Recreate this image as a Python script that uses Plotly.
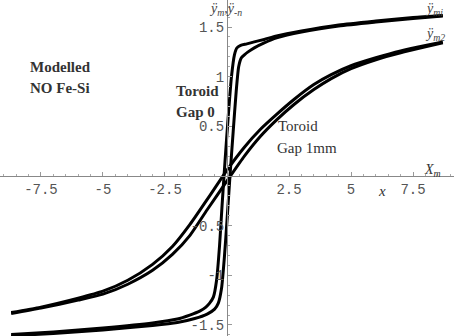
import plotly.graph_objects as go

# Gap 0 toroid loop (two branches)
gap0_asc_x = [-8.7, -7.0, -5.0, -3.0, -2.0, -1.3, -0.8, -0.5, -0.35, -0.22, -0.1, 0.0, 0.12, 0.25, 0.37, 0.47, 0.58, 0.7, 0.85, 1.1, 1.5, 2.0, 3.0, 4.5, 6.0, 7.5, 8.7]
gap0_asc_y = [-1.61, -1.585, -1.55, -1.505, -1.475, -1.435, -1.39, -1.34, -1.28, -1.13, -0.80, -0.45, 0.0, 0.45, 0.85, 1.10, 1.19, 1.22, 1.25, 1.29, 1.34, 1.39, 1.45, 1.51, 1.55, 1.585, 1.61]
gap0_desc_x = [8.7, 7.5, 6.0, 4.5, 3.0, 2.0, 1.5, 1.1, 0.8, 0.55, 0.4, 0.3, 0.18, 0.05, -0.08, -0.2, -0.3, -0.42, -0.55, -0.7, -0.85, -1.1, -1.5, -2.0, -3.0, -5.0, -7.0, -8.7]
gap0_desc_y = [1.615, 1.595, 1.56, 1.52, 1.46, 1.41, 1.375, 1.35, 1.33, 1.315, 1.29, 1.22, 1.0, 0.6, 0.15, -0.3, -0.7, -1.05, -1.22, -1.28, -1.32, -1.36, -1.40, -1.44, -1.48, -1.53, -1.57, -1.595]

# Gap 1mm toroid loop (two branches)
gap1_asc_x = [-8.7, -7.5, -6.0, -5.0, -4.0, -3.0, -2.2, -1.5, -0.8, 0.0, 0.7, 1.35, 2.0, 2.7, 3.5, 4.2, 5.0, 6.0, 7.0, 8.0, 8.7]
gap1_asc_y = [-1.385, -1.33, -1.25, -1.19, -1.09, -0.95, -0.79, -0.60, -0.34, -0.05, 0.20, 0.40, 0.565, 0.72, 0.87, 0.98, 1.08, 1.17, 1.24, 1.30, 1.34]
gap1_desc_x = [8.7, 8.0, 7.0, 6.0, 5.0, 4.2, 3.5, 2.7, 2.0, 1.35, 0.7, 0.0, -0.7, -1.5, -2.2, -3.0, -4.0, -5.0, -6.0, -7.5, -8.7]
gap1_desc_y = [1.35, 1.315, 1.26, 1.19, 1.11, 1.02, 0.92, 0.77, 0.62, 0.47, 0.29, 0.06, -0.20, -0.49, -0.71, -0.89, -1.05, -1.16, -1.23, -1.32, -1.375]

x_ticks = [-7.5, -5, -2.5, 2.5, 5, 7.5]
x_tick_text = ["-7.5", "-5", "-2.5", "2.5", "5", "7.5"]
y_ticks = [-1.5, -1, -0.5, 0.5, 1, 1.5]
y_tick_text = ["-1.5", "-1", "-0.5", "0.5", "1", "1.5"]

XR = [-9.15, 9.15]
YR = [-1.611, 1.772]

fig = go.Figure()
for xs, ys in [(gap0_asc_x, gap0_asc_y), (gap0_desc_x, gap0_desc_y),
               (gap1_asc_x, gap1_asc_y), (gap1_desc_x, gap1_desc_y)]:
    fig.add_trace(go.Scatter(x=xs, y=ys, mode="lines", line=dict(color="black", width=3, shape="spline", smoothing=0.6),
                             showlegend=False, hoverinfo="skip"))

tickfont = dict(family="Liberation Mono, DejaVu Sans Mono, monospace", size=14, color="#555")
fig.update_layout(
    width=454, height=336, margin=dict(l=0, r=0, t=0, b=0),
    paper_bgcolor="white", plot_bgcolor="white", showlegend=False,
    xaxis=dict(range=XR, showgrid=False, zeroline=False, showline=True, linecolor="#888", linewidth=1,
               anchor="free", position=(0 - YR[0]) / (YR[1] - YR[0]),
               tickmode="array", tickvals=x_ticks, ticktext=x_tick_text, ticks="inside", ticklen=4,
               tickcolor="#999", tickfont=tickfont,
               minor=dict(dtick=0.5, tick0=0, ticks="inside", ticklen=2, tickcolor="#aaa")),
    yaxis=dict(range=YR, showgrid=False, zeroline=False, showline=True, linecolor="#888", linewidth=1,
               anchor="free", position=(0 - XR[0]) / (XR[1] - XR[0]),
               tickmode="array", tickvals=y_ticks, ticktext=y_tick_text, ticks="inside", ticklen=4,
               tickcolor="#999", tickfont=tickfont,
               minor=dict(dtick=0.1, tick0=0, ticks="inside", ticklen=2, tickcolor="#aaa")),
)

serif = "Liberation Serif, DejaVu Serif, serif"
def ann(text, x, y, size=15, bold=False, italic=False, xanchor="left", color="#333"):
    t = text
    if bold:
        t = "<b>" + t + "</b>"
    if italic:
        t = "<i>" + t + "</i>"
    fig.add_annotation(x=x, y=y, xref="x", yref="y", text=t, showarrow=False, xanchor=xanchor, yanchor="middle",
                       font=dict(family=serif, size=size, color=color))

ann("Modelled", -6.73, 1.10, size=15, bold=True, xanchor="center")
ann("NO Fe-Si", -6.73, 0.886, size=15, bold=True, xanchor="center")
ann("Toroid", -2.12, 0.856, size=15, bold=True)
ann("Gap 0", -2.12, 0.645, size=15, bold=True)
ann("Toroid", 1.96, 0.50, size=15)
ann("Gap 1mm", 1.92, 0.28, size=15)
ann("ÿ<sub>m</sub>,ÿ<sub>-n</sub>", -0.8, 1.68, size=14, italic=True, color="#444")
ann("ÿ<sub>mi</sub>", 7.9, 1.68, size=14, italic=True, color="#444")
ann("ÿ<sub>m2</sub>", 7.9, 1.42, size=14, italic=True, color="#444")
ann("X<sub>m</sub>", 7.85, 0.06, size=14, italic=True, color="#333")
ann("x", 6.25, -0.15, size=15, italic=True, color="#333", xanchor="center")

fig.write_html("out.html")
